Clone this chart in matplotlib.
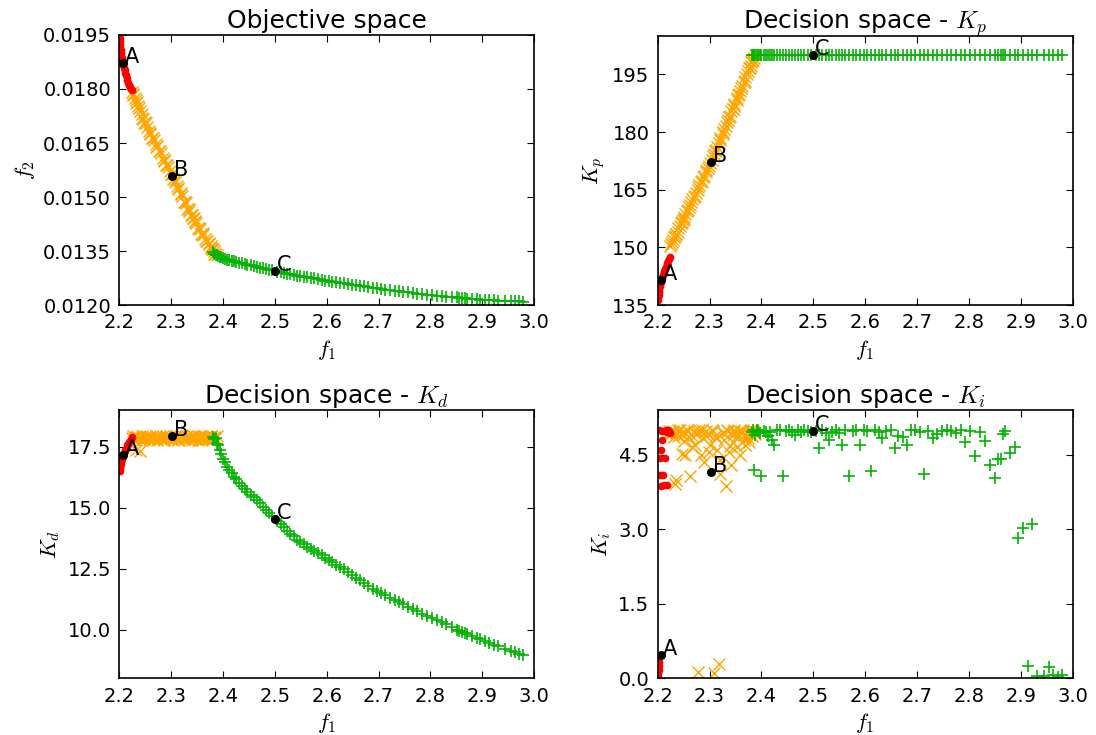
import matplotlib
matplotlib.use("Agg")
import matplotlib.pyplot as plt
from matplotlib.ticker import FormatStrFormatter

plt.rcParams["font.family"] = ["DejaVu Sans"]
plt.rcParams["mathtext.fontset"] = "cm"

# ---- solutions: region near A (red) ----
f1_red = [2.2010, 2.2013, 2.2016, 2.2020, 2.2025, 2.2031, 2.2038, 2.2046, 2.2055, 2.2065,
          2.2076, 2.2088, 2.2100, 2.2113, 2.2127, 2.2141, 2.2156, 2.2171, 2.2187, 2.2203,
          2.2220, 2.2238]
f2_red = [0.01942, 0.01933, 0.01925, 0.01917, 0.01909, 0.01901, 0.01893, 0.01886, 0.01879, 0.01873,
          0.01866, 0.01859, 0.01852, 0.01845, 0.01838, 0.01831, 0.01824, 0.01818, 0.01812, 0.01806,
          0.01801, 0.01797]
kp_red = [136.3, 136.9, 137.5, 138.1, 138.7, 139.3, 139.9, 140.4, 140.9, 141.4,
          141.9, 142.4, 142.9, 143.4, 143.9, 144.4, 144.9, 145.4, 145.9, 146.4,
          146.9, 147.4]
kd_red = [16.50, 16.58, 16.65, 16.72, 16.80, 16.87, 16.94, 17.00, 17.06, 17.12,
          17.18, 17.24, 17.30, 17.36, 17.42, 17.48, 17.55, 17.61, 17.67, 17.74,
          17.81, 17.88]
ki_red = [0.03, 0.10, 0.17, 0.24, 0.32, 5.00, 4.43, 4.09, 3.87, 4.60,
          4.98, 4.79, 4.09, 3.89, 4.97, 4.43, 5.00, 4.95, 3.89, 4.99,
          4.97, 4.93]

# ---- solutions: region near B (orange) ----
f1_orange = [2.224, 2.227, 2.230, 2.233, 2.236, 2.240, 2.243, 2.246, 2.250, 2.253,
             2.257, 2.260, 2.263, 2.267, 2.270, 2.273, 2.277, 2.280, 2.284, 2.287,
             2.290, 2.294, 2.297, 2.301, 2.304, 2.308, 2.311, 2.314, 2.318, 2.321,
             2.325, 2.328, 2.331, 2.335, 2.338, 2.342, 2.345, 2.348, 2.352, 2.355,
             2.359, 2.362, 2.366, 2.369, 2.372, 2.376, 2.379, 2.382, 2.385, 2.388,
             2.2255, 2.2315, 2.2385, 2.2445, 2.2515, 2.2585, 2.2645, 2.2715, 2.2785, 2.2855,
             2.2925, 2.2995, 2.3065, 2.3125, 2.3195, 2.3265, 2.3335, 2.3395, 2.3465, 2.3535,
             2.3605, 2.3675, 2.3735, 2.3775, 2.3805, 2.3835, 2.2345, 2.2485, 2.3445, 2.3575]
f2_orange = [0.01793, 0.01783, 0.01775, 0.01762, 0.01754, 0.01738, 0.01731, 0.01718, 0.01707, 0.01695,
             0.01684, 0.01677, 0.01665, 0.01657, 0.01646, 0.01641, 0.01627, 0.01621, 0.01607, 0.01602,
             0.01590, 0.01583, 0.01571, 0.01564, 0.01551, 0.01543, 0.01530, 0.01524, 0.01508, 0.01503,
             0.01487, 0.01482, 0.01468, 0.01461, 0.01450, 0.01443, 0.01432, 0.01428, 0.01415, 0.01411,
             0.01398, 0.01394, 0.01383, 0.01379, 0.01370, 0.01364, 0.01355, 0.01351, 0.01343, 0.01338,
             0.01785, 0.01769, 0.01748, 0.01719, 0.01705, 0.01676, 0.01665, 0.01639, 0.01628, 0.01601,
             0.01589, 0.01564, 0.01547, 0.01522, 0.01511, 0.01486, 0.01467, 0.01450, 0.01431, 0.01413,
             0.01401, 0.01378, 0.01372, 0.01357, 0.01355, 0.01341, 0.01763, 0.01705, 0.01441, 0.01397]
kp_orange = [150.3, 151.4, 151.9, 153.0, 153.6, 155.0, 155.5, 156.7, 157.5, 158.6,
             159.4, 160.6, 161.1, 162.5, 163.1, 164.2, 165.0, 166.2, 167.0, 168.2,
             168.7, 170.1, 170.6, 172.0, 172.7, 174.3, 175.0, 176.2, 177.2, 178.5,
             179.5, 180.8, 181.5, 183.1, 183.8, 185.4, 186.1, 187.4, 188.4, 189.7,
             190.7, 192.0, 193.0, 194.3, 195.0, 196.6, 197.3, 198.6, 199.3, 200.1,
             151.0, 152.8, 154.0, 156.3, 157.9, 159.8, 161.8, 163.4, 165.8, 167.4,
             169.6, 171.2, 173.9, 175.4, 178.0, 179.9, 182.5, 184.1, 186.9, 188.8,
             191.5, 193.4, 195.8, 196.8, 198.2, 198.7, 153.6, 157.2, 186.0, 190.0]
kd_orange = [17.86, 17.92, 17.78, 17.35, 17.88, 17.30, 17.94, 17.81, 17.90, 17.85,
             17.77, 17.93, 17.88, 17.82, 17.95, 17.79, 17.90, 17.86, 17.93, 17.80,
             17.88, 17.84, 17.95, 17.91, 17.78, 17.87, 17.93, 17.82, 17.89, 17.96,
             17.80, 17.86, 17.92, 17.79, 17.88, 17.94, 17.83, 17.90, 17.78, 17.87,
             17.95, 17.84, 17.91, 17.80, 17.88, 17.93, 17.82, 17.90, 17.86, 17.94,
             17.80, 17.91, 17.84, 17.76, 17.93, 17.87, 17.81, 17.92, 17.85, 17.78,
             17.90, 17.83, 17.94, 17.79, 17.88, 17.84, 17.91, 17.77, 17.86, 17.93,
             17.81, 17.89, 17.85, 17.92, 17.80, 17.87, 17.90, 17.83, 17.95, 17.79]
ki_orange = [4.98, 4.93, 4.97, 3.92, 3.99, 4.88, 5.00, 4.52, 4.95, 4.49,
             4.99, 4.86, 4.08, 4.65, 4.97, 4.91, 0.13, 5.00, 4.49, 4.83,
             4.35, 4.97, 4.92, 4.70, 4.99, 0.10, 4.87, 4.60, 0.28, 4.12,
             4.95, 4.80, 3.87, 4.98, 4.55, 4.29, 4.90, 4.99, 4.65, 4.86,
             4.49, 4.96, 4.80, 4.69, 4.93, 4.75, 4.99, 4.88, 4.95, 4.91,
             4.96, 4.85, 4.99, 4.92, 4.78, 4.98, 4.90, 4.70, 4.95, 4.99,
             4.88, 4.56, 4.97, 4.83, 4.40, 4.93, 4.99, 4.68, 4.95, 4.87,
             4.98, 4.92, 4.84, 4.97, 4.90, 4.99, 4.94, 4.89, 4.76, 4.97]

# ---- solutions: region near C (green) ----
f1_green = [2.381, 2.383, 2.386, 2.388, 2.391, 2.394, 2.397, 2.400, 2.404, 2.408,
            2.412, 2.417, 2.421, 2.425, 2.430, 2.436, 2.442, 2.447, 2.453, 2.459,
            2.465, 2.471, 2.477, 2.483, 2.489, 2.495, 2.505, 2.511, 2.517, 2.524,
            2.530, 2.536, 2.543, 2.549, 2.556, 2.562, 2.569, 2.576, 2.583, 2.590,
            2.597, 2.604, 2.611, 2.618, 2.626, 2.633, 2.641, 2.649, 2.657, 2.664,
            2.672, 2.680, 2.689, 2.697, 2.705, 2.713, 2.722, 2.731, 2.739, 2.748,
            2.757, 2.766, 2.775, 2.784, 2.793, 2.803, 2.812, 2.822, 2.831, 2.841,
            2.851, 2.856, 2.861, 2.866, 2.870, 2.880, 2.889, 2.895, 2.905, 2.913,
            2.922, 2.931, 2.944, 2.955, 2.963, 2.971, 2.979]
f2_green = [0.01347, 0.01343, 0.01340, 0.01338, 0.01335, 0.01334, 0.01332, 0.01330, 0.01328, 0.01326,
            0.01324, 0.01322, 0.01321, 0.01319, 0.01318, 0.01316, 0.01314, 0.01312, 0.01310, 0.01308,
            0.01306, 0.01304, 0.01302, 0.01300, 0.01298, 0.01296, 0.01293, 0.01291, 0.01289, 0.01287,
            0.01285, 0.01284, 0.01282, 0.01280, 0.01279, 0.01277, 0.01276, 0.01274, 0.01272, 0.01270,
            0.01268, 0.01267, 0.01265, 0.01264, 0.01262, 0.01260, 0.01258, 0.01256, 0.01255, 0.01253,
            0.01252, 0.01250, 0.01248, 0.01246, 0.01245, 0.01243, 0.01241, 0.01240, 0.01238, 0.01236,
            0.01235, 0.01233, 0.01232, 0.01230, 0.01229, 0.01227, 0.01226, 0.01224, 0.01223, 0.01222,
            0.01221, 0.01220, 0.01219, 0.01219, 0.01218, 0.01217, 0.01216, 0.01215, 0.01214, 0.01214,
            0.01213, 0.01212, 0.01211, 0.01211, 0.01210, 0.01210, 0.01209]
kp_green = [200.0, 200.0, 200.0, 200.0, 200.0, 200.0, 200.0, 200.0, 200.0, 200.0,
            200.0, 200.0, 200.0, 200.0, 200.0, 200.0, 200.0, 200.0, 200.0, 200.0,
            200.0, 200.0, 200.0, 200.0, 200.0, 200.0, 200.0, 200.0, 200.0, 200.0,
            200.0, 200.0, 200.0, 200.0, 200.0, 200.0, 200.0, 200.0, 200.0, 200.0,
            200.0, 200.0, 200.0, 200.0, 200.0, 200.0, 200.0, 200.0, 200.0, 200.0,
            200.0, 200.0, 200.0, 200.0, 200.0, 200.0, 200.0, 200.0, 200.0, 200.0,
            200.0, 200.0, 200.0, 200.0, 200.0, 200.0, 200.0, 200.0, 200.0, 200.0,
            200.0, 200.0, 200.0, 200.0, 200.0, 200.0, 200.0, 200.0, 200.0, 200.0,
            200.0, 200.0, 200.0, 200.0, 200.0, 200.0, 200.0]
kd_green = [17.90, 17.80, 17.85, 17.62, 17.55, 17.38, 17.20, 17.00, 16.85, 16.68,
            16.52, 16.40, 16.27, 16.17, 16.02, 15.88, 15.76, 15.65, 15.53, 15.43,
            15.30, 15.17, 15.04, 14.91, 14.78, 14.65, 14.43, 14.31, 14.19, 14.05,
            13.93, 13.82, 13.69, 13.59, 13.49, 13.40, 13.30, 13.21, 13.13, 13.04,
            12.95, 12.86, 12.76, 12.66, 12.56, 12.47, 12.36, 12.24, 12.12, 12.02,
            11.91, 11.80, 11.68, 11.57, 11.48, 11.40, 11.31, 11.21, 11.12, 11.03,
            10.93, 10.83, 10.74, 10.64, 10.55, 10.46, 10.38, 10.29, 10.21, 10.11,
            10.00, 9.95, 9.89, 9.84, 9.80, 9.72, 9.65, 9.60, 9.52, 9.45,
            9.38, 9.31, 9.20, 9.12, 9.06, 9.00, 8.94]
ki_green = [4.95, 4.99, 4.19, 4.90, 5.00, 4.97, 4.93, 4.07, 4.98, 4.96,
            4.88, 4.96, 4.80, 4.70, 5.00, 4.99, 4.07, 4.97, 5.00, 4.95,
            4.90, 4.99, 4.96, 5.00, 4.98, 4.95, 4.97, 4.63, 4.99, 4.93,
            4.80, 4.96, 4.99, 4.94, 4.70, 5.00, 4.07, 4.97, 4.99, 4.70,
            5.00, 4.97, 4.17, 4.99, 4.95, 4.83, 4.98, 5.00, 4.63, 4.87,
            4.85, 4.70, 4.99, 5.00, 4.96, 4.11, 4.98, 4.84, 4.92, 4.97,
            5.00, 4.98, 4.94, 4.99, 4.75, 4.97, 4.48, 4.95, 4.77, 4.30,
            4.03, 4.42, 4.41, 4.92, 4.98, 4.54, 4.66, 2.83, 3.03, 0.25,
            3.10, 0.05, 0.04, 0.23, 0.06, 0.03, 0.07]

# ---- highlighted solutions ----
pt_names = ["A", "B", "C"]
pt_f1 = [2.2065, 2.302, 2.4996]
pt_f2 = [0.01873, 0.01559, 0.01294]
pt_kp = [141.5, 172.1, 200.0]
pt_kd = [17.14, 17.92, 14.54]
pt_ki = [0.47, 4.16, 4.97]

RED = "#ff0000"
ORANGE = "#ffa500"
GREEN = "#00b400"

fig = plt.figure(figsize=(10.96, 7.35), dpi=100)
rects = [
    [0.1089, 0.5850, 0.3784, 0.3674],
    [0.6001, 0.5850, 0.3786, 0.3660],
    [0.1089, 0.0771, 0.3784, 0.3651],
    [0.6001, 0.0771, 0.3786, 0.3651],
]
panels = [
    ("Objective space", r"$f_2$", f2_red, f2_orange, f2_green, pt_f2,
     (0.012, 0.0195), [0.0120, 0.0135, 0.0150, 0.0165, 0.0180, 0.0195], "%.4f"),
    (r"Decision space - $K_p$", r"$K_p$", kp_red, kp_orange, kp_green, pt_kp,
     (135, 205), [135, 150, 165, 180, 195], "%d"),
    (r"Decision space - $K_d$", r"$K_d$", kd_red, kd_orange, kd_green, pt_kd,
     (8.0, 19.0), [10.0, 12.5, 15.0, 17.5], "%.1f"),
    (r"Decision space - $K_i$", r"$K_i$", ki_red, ki_orange, ki_green, pt_ki,
     (0.0, 5.4), [0.0, 1.5, 3.0, 4.5], "%.1f"),
]

for rect, (title, ylab, yr, yo, yg, yp, ylim, yticks, fmt) in zip(rects, panels):
    ax = fig.add_axes(rect)
    ax.plot(f1_orange, yo, linestyle="none", marker="x", ms=9, mew=1.0,
            color=ORANGE)
    ax.plot(f1_green, yg, linestyle="none", marker="+", ms=8, mew=1.2,
            color=GREEN)
    ax.plot(f1_red, yr, linestyle="none", marker="o", ms=5.5, mew=0,
            color=RED)
    ax.plot(pt_f1, yp, linestyle="none", marker="o", ms=6.5, mew=0,
            color="black", zorder=5)
    for name, px, py in zip(pt_names, pt_f1, yp):
        ax.annotate(name, (px, py), xytext=(1.5, 0), textcoords="offset points",
                    ha="left", va="baseline", fontsize=15, zorder=6)
    ax.set_xlim(2.2, 3.0)
    ax.set_ylim(*ylim)
    ax.set_xticks([2.2, 2.3, 2.4, 2.5, 2.6, 2.7, 2.8, 2.9, 3.0])
    ax.set_yticks(yticks)
    ax.xaxis.set_major_formatter(FormatStrFormatter("%.1f"))
    ax.yaxis.set_major_formatter(FormatStrFormatter(fmt))
    ax.tick_params(direction="in", top=True, right=True, length=5, width=0.8,
                   labelsize=14, pad=6)
    for sp in ax.spines.values():
        sp.set_linewidth(1.2)
    ax.set_title(title, fontsize=18, pad=5)
    ax.set_xlabel(r"$f_1$", fontsize=16)
    ax.set_ylabel(ylab, fontsize=16)

fig.savefig("out.png", dpi=100)
